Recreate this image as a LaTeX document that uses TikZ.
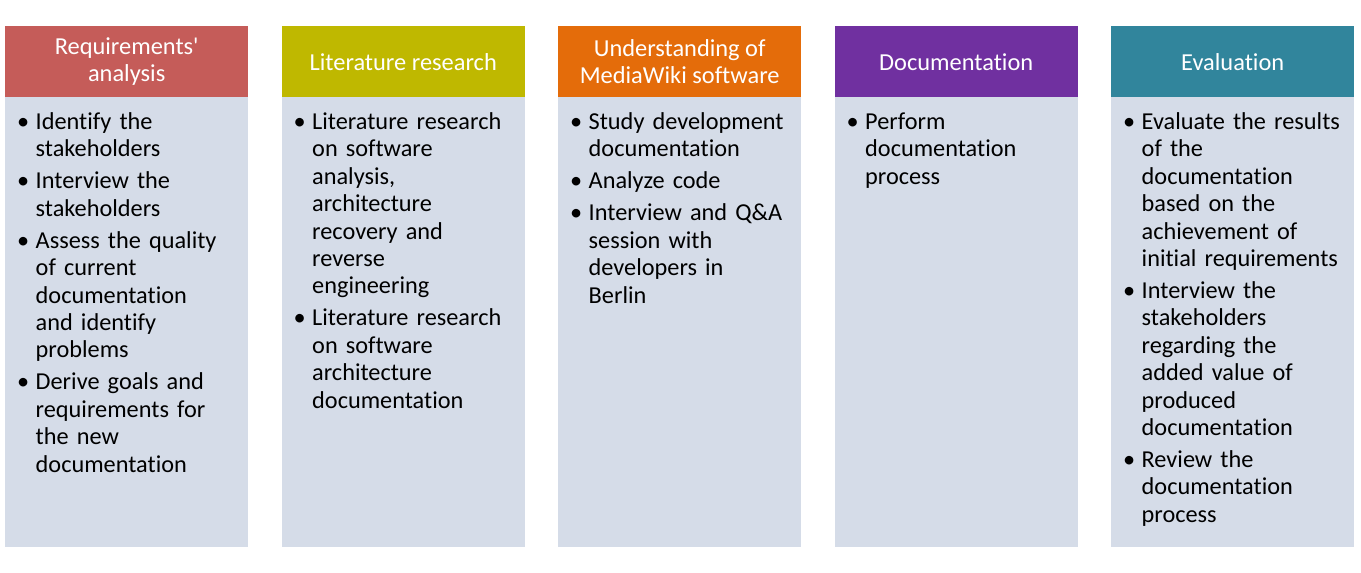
\documentclass[tikz,border=0pt]{standalone}
\usepackage{fontspec}
\setmainfont{Carlito}
\newfontfamily\cf{Carlito}[Ligatures=NoCommon]
\definecolor{cRed}{HTML}{C55C59}
\definecolor{cOlive}{HTML}{BFB800}
\definecolor{cOrange}{HTML}{E46C0A}
\definecolor{cPurple}{HTML}{7030A0}
\definecolor{cTeal}{HTML}{31859C}
\definecolor{cBody}{HTML}{D5DCE8}
\newcommand\itb{\makebox[18.5pt][l]{\textbullet}}
\newcommand\itc{\hspace*{18.5pt}}
\begin{document}
\begin{tikzpicture}[x=1pt,y=-1pt,
  hdr/.style={draw=none,minimum width=243pt,minimum height=71pt,inner sep=0pt,
    text=white,align=center,font=\cf\fontsize{24.4}{27.4}\selectfont},
  bodybox/.style={draw=none,fill=cBody,minimum width=243pt,minimum height=450pt,inner sep=0pt},
  list/.style={anchor=base west,inner sep=0pt,text width=235pt,align=left,
    font=\cf\fontsize{24.3}{27.4}\selectfont}]
\useasboundingbox[fill=white] (0,0) rectangle (1361,573);
% column 1
\node[bodybox,anchor=north west] (b1) at (5,97) {};
\node[hdr,fill=cRed,anchor=north west] (h1) at (5,26) {Requirements'\\analysis};
\node[list] (t1) at (17,129.5) {\itb Identify the\\\itc stakeholders\\[4.6pt]
\itb Interview the\\\itc stakeholders\\[4.6pt]
\itb Assess the quality\\\itc of current\\\itc documentation\\\itc and identify\\\itc problems\\[4.6pt]
\itb Derive goals and\\\itc requirements for\\\itc the new\\\itc documentation};
% column 2
\node[bodybox,anchor=north west] (b2) at (281.5,97) {};
\node[hdr,fill=cOlive,anchor=north west] (h2) at (281.5,26) {Literature research};
\node[list] (t2) at (293.5,129.5) {\itb Literature research\\\itc on software\\\itc analysis,\\\itc architecture\\\itc recovery and\\\itc reverse\\\itc engineering\\[4.6pt]
\itb Literature research\\\itc on software\\\itc architecture\\\itc documentation};
% column 3
\node[bodybox,anchor=north west] (b3) at (558,97) {};
\node[hdr,fill=cOrange,anchor=north west] (h3) at (558,26) {Understanding of\\MediaWiki software};
\node[list] (t3) at (570,129.5) {\itb Study development\\\itc documentation\\[4.6pt]
\itb Analyze code\\[4.6pt]
\itb Interview and Q\&A\\\itc session with\\\itc developers in\\\itc Berlin};
% column 4
\node[bodybox,anchor=north west] (b4) at (834.5,97) {};
\node[hdr,fill=cPurple,anchor=north west] (h4) at (834.5,26) {Documentation};
\node[list] (t4) at (846.5,129.5) {\itb Perform\\\itc documentation\\\itc process};
% column 5
\node[bodybox,anchor=north west] (b5) at (1111,97) {};
\node[hdr,fill=cTeal,anchor=north west] (h5) at (1111,26) {Evaluation};
\node[list] (t5) at (1123,129.5) {\itb Evaluate the results\\\itc of the\\\itc documentation\\\itc based on the\\\itc achievement of\\\itc initial requirements\\[4.6pt]
\itb Interview the\\\itc stakeholders\\\itc regarding the\\\itc added value of\\\itc produced\\\itc documentation\\[4.6pt]
\itb Review the\\\itc documentation\\\itc process};
\end{tikzpicture}
\end{document}
